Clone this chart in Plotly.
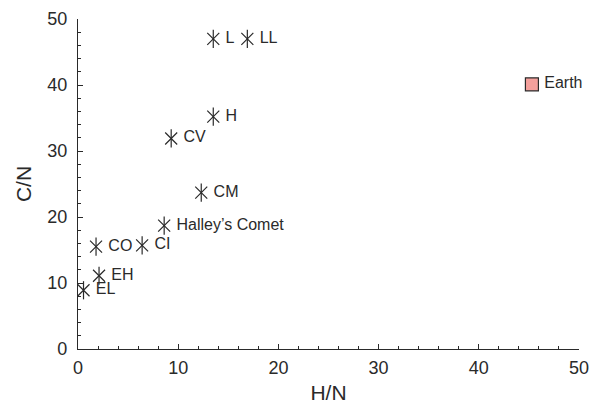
import plotly.graph_objects as go

names = ["L", "LL", "H", "CV", "CM", "Halley\u2019s Comet", "CI", "CO", "EH", "EL"]
hn = [13.5, 16.9, 13.5, 9.3, 12.3, 8.6, 6.4, 1.8, 2.1, 0.55]
cn = [47.0, 47.0, 35.2, 31.9, 23.7, 18.7, 15.7, 15.5, 11.1, 8.9]

earth_name = ["Earth"]
earth_hn = [45.3]
earth_cn = [40.1]

font = "Liberation Sans, Arial, sans-serif"
ink = "#2a2a2a"
gap = "\u2009"

fig = go.Figure()
fig.add_trace(go.Scatter(
    x=hn, y=cn, mode="markers", cliponaxis=False,
    marker=dict(symbol="x-thin-open", size=12, color=ink, line=dict(color=ink, width=1.2)),
    hoverinfo="skip", showlegend=False))
fig.add_trace(go.Scatter(
    x=hn, y=cn, mode="markers+text", text=[gap + n for n in names], textposition="middle right",
    textfont=dict(family=font, size=16, color=ink), cliponaxis=False,
    marker=dict(symbol="line-ns-open", size=13, color=ink, line=dict(color=ink, width=1.2)),
    showlegend=False))
fig.add_trace(go.Scatter(
    x=earth_hn, y=earth_cn, mode="markers+text", text=[gap + n for n in earth_name],
    textposition="middle right", cliponaxis=False,
    textfont=dict(family=font, size=16, color=ink),
    marker=dict(symbol="square", size=13, color="#F4A09C", line=dict(color=ink, width=1.2)),
    showlegend=False))

axis_common = dict(
    range=[0, 50], dtick=10, showgrid=False, zeroline=False,
    showline=True, linecolor=ink, linewidth=1.2,
    ticks="inside", ticklen=5, tickwidth=1.2, tickcolor=ink,
    minor=dict(dtick=2, ticks="inside", ticklen=3, tickwidth=1, tickcolor=ink),
    tickfont=dict(family=font, size=18, color=ink),
    title_font=dict(family=font, size=21, color=ink),
)
fig.update_layout(
    width=593, height=404,
    margin=dict(l=78, r=14, t=19, b=55, autoexpand=False),
    paper_bgcolor="white", plot_bgcolor="white",
    xaxis=dict(**axis_common, ticklabelstandoff=2, title=dict(text="H/N", standoff=12)),
    yaxis=dict(**axis_common, ticklabelstandoff=6, title=dict(text="C/N", standoff=9)),
)
fig.write_html("out.html")
